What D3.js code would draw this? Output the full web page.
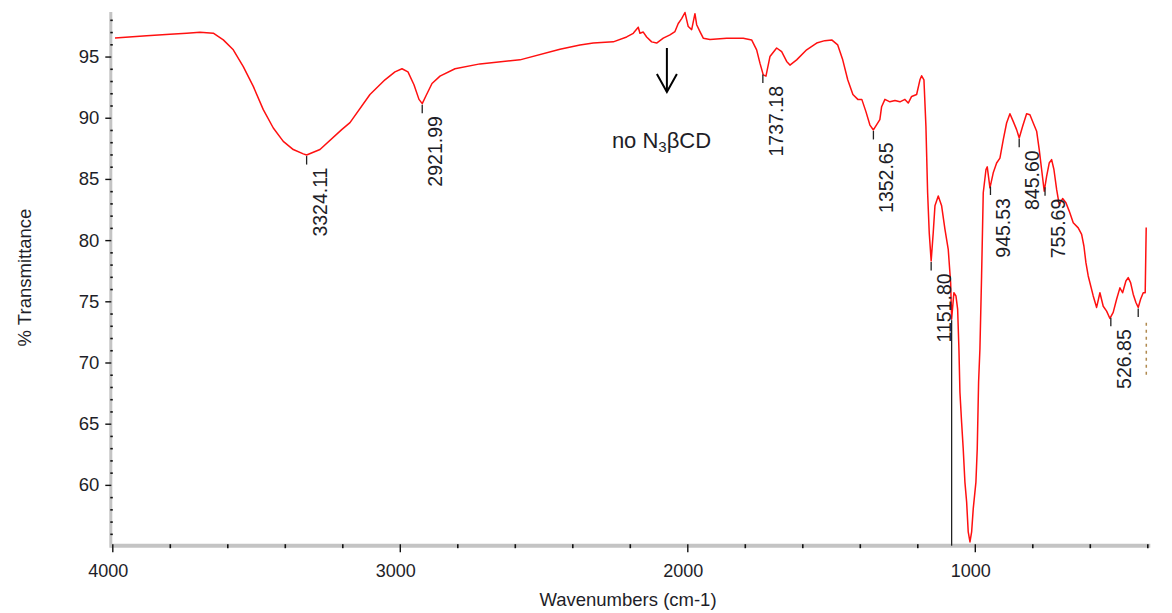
<!DOCTYPE html>
<html><head><meta charset="utf-8">
<script src="https://cdn.jsdelivr.net/npm/d3@7"></script>
<style>
body{margin:0;background:#fff;}
svg{display:block;}
text{font-family:"Liberation Sans", Arial, sans-serif;fill:#1e1e28;}
</style></head><body>
<svg id="chart" width="1172" height="613"></svg>
<script>
// ---- data ----
const wavenumbers = [3990.6,3880.4,3799.3,3741.2,3695.0,3648.7,3613.9,3579.2,3544.4,3509.6,3474.8,3440.0,3405.3,3370.5,3335.7,3324.1,3277.6,3202.1,3173.3,3103.8,3051.6,3016.8,2992.4,2971.6,2950.7,2933.3,2922.0,2908.9,2888.0,2860.2,2808.0,2721.2,2582.0,2442.9,2373.3,2327.1,2257.5,2210.9,2188.0,2170.6,2164.7,2153.2,2141.4,2124.0,2106.6,2083.6,2060.3,2042.9,2031.5,2019.6,2008.1,2002.2,1996.7,1984.8,1973.4,1967.4,1956.0,1944.5,1921.2,1863.1,1805.4,1776.2,1758.8,1747.3,1735.8,1726.4,1712.5,1689.2,1671.8,1654.4,1643.0,1619.7,1584.9,1550.1,1521.8,1497.7,1476.8,1459.4,1442.0,1424.0,1406.9,1393.0,1378.7,1364.8,1352.7,1330.3,1324.1,1312.6,1295.3,1277.9,1260.4,1243.0,1231.5,1219.7,1202.3,1190.8,1184.9,1176.9,1170.0,1164.1,1158.5,1151.8,1144.6,1138.6,1127.1,1115.4,1103.9,1092.4,1086.6,1084.0,1080.6,1072.7,1065.6,1059.7,1055.2,1051.7,1045.9,1040.3,1034.4,1028.4,1022.9,1016.8,1011.0,1005.4,996.1,991.5,986.8,982.2,976.4,970.6,961.1,956.7,947.3,935.9,924.1,912.6,901.1,889.4,877.8,866.4,854.6,845.5,833.6,819.8,808.3,796.7,784.9,775.9,767.6,758.5,750.2,741.2,732.8,724.8,715.4,706.4,694.5,683.0,671.6,657.6,640.3,628.4,620.4,613.5,605.5,588.1,576.3,564.8,553.3,541.5,530.0,518.6,506.8,495.3,485.9,474.4,466.4,458.1,449.0,439.6,431.6,423.3,414.2,407.3,403.8];
const transmittance = [96.52,96.69,96.83,96.91,96.99,96.91,96.36,95.55,94.18,92.56,90.66,89.16,88.07,87.40,87.05,86.95,87.40,89.03,89.60,91.90,93.10,93.75,94.00,93.75,92.70,91.50,91.15,91.80,92.80,93.40,94.00,94.40,94.73,95.60,95.95,96.10,96.20,96.60,96.90,97.40,96.90,97.00,96.60,96.20,96.10,96.50,96.77,97.04,97.70,98.10,98.60,98.00,97.45,97.20,98.50,97.60,97.04,96.50,96.40,96.50,96.50,96.36,95.55,94.46,93.50,93.40,95.00,95.70,95.40,94.60,94.30,94.73,95.55,96.10,96.30,96.36,95.95,94.73,93.10,91.90,91.50,91.50,90.50,89.40,89.00,89.84,90.90,91.50,91.30,91.40,91.30,91.50,91.20,91.74,91.90,93.10,93.43,93.10,89.30,83.87,80.60,78.30,80.60,82.80,83.60,82.80,80.90,79.25,77.35,76.50,73.54,75.70,75.44,74.36,71.10,67.57,65.12,62.95,60.23,58.60,56.16,55.34,56.16,58.06,60.23,62.95,68.40,71.10,77.07,83.87,85.77,85.99,84.27,85.50,86.30,86.70,88.20,89.57,90.33,89.70,89.03,88.35,89.30,90.33,90.25,89.57,88.90,87.40,85.77,84.00,85.20,86.30,86.58,85.77,84.14,82.90,83.40,83.05,82.37,81.42,81.00,80.47,79.50,78.16,77.07,75.44,74.50,75.70,74.60,74.20,73.60,74.10,75.17,76.10,75.70,76.66,76.94,76.53,75.58,74.90,74.50,75.17,75.70,75.70,81.04];

const xMajorTicks = [4000, 3000, 2000, 1000];
const xTickLabels = ["4000", "3000", "2000", "1000"];
const xMinorTicks = [3800,3600,3400,3200,2800,2600,2400,2200,1800,1600,1400,1200,800,600,400];
const yMajorTicks = [60, 65, 70, 75, 80, 85, 90, 95];
const yTickLabels = ["60", "65", "70", "75", "80", "85", "90", "95"];
const yMinorTicks = [56,57,58,59,61,62,63,64,66,67,68,69,71,72,73,74,76,77,78,79,81,82,83,84,86,87,88,89,91,92,93,94,96,97,98];

const peakWavenumbers = [3324.11, 2921.99, 1737.18, 1352.65, 1151.80, 945.53, 845.60, 755.69, 526.85];
const peakLabels = ["3324.11", "2921.99", "1737.18", "1352.65", "1151.80", "945.53", "845.60", "755.69", "526.85"];
const unlabeledPeaks = [431.6];
const dropLineWn = [1080.6];       // black marker line running down to the axis
const cutLabelWn = [403.5];        // clipped (dashed) label at the right edge
const cutLabelT = [73.25, 68.7];

const xTitle = "Wavenumbers (cm-1)";
const yTitle = "% Transmittance";
const annotationWn = [2071];       // arrow position
const annotationT = [95.7, 92.1];  // arrow from / to
const annotationParts = ["no N", "3", "βCD"];

// ---- scales ----
const svg = d3.select("#chart");
const x = d3.scaleLinear().domain([4000, 400]).range([112.3, 1147.3]);
const y = d3.scaleLinear().domain([55.03, 98.64]).range([545.7, 12]);

const data = wavenumbers.map((w, i) => [w, transmittance[i]]);
function tAt(w) {
  for (let i = 0; i < data.length - 1; i++) {
    const a = data[i], b = data[i + 1];
    if (w <= a[0] && w >= b[0]) {
      const f = (a[0] - w) / (a[0] - b[0]);
      return a[1] + f * (b[1] - a[1]);
    }
  }
  return data[data.length - 1][1];
}

// ---- axes ----
const axisGray = "#c4c4c4";
const x0 = x(4000), yBottom = y.range()[0];
svg.append("line").attr("x1", x0 - 1.5).attr("x2", x(400) + 3)
  .attr("y1", yBottom).attr("y2", yBottom)
  .attr("stroke", axisGray).attr("stroke-width", 4);
svg.append("line").attr("x1", x0 - 1.5).attr("x2", x0 - 1.5)
  .attr("y1", y.range()[1]).attr("y2", yBottom + 2)
  .attr("stroke", axisGray).attr("stroke-width", 3);

// y axis
const yAx = svg.append("g").attr("transform", `translate(${x0 - 1},0)`);
yAx.call(d3.axisLeft(y).tickValues(yMajorTicks).tickSize(6).tickPadding(6)
  .tickFormat((d, i) => yTickLabels[i]));
yAx.select(".domain").remove();
yAx.selectAll(".tick line").attr("stroke", "#111").attr("stroke-width", 1.4);
yAx.selectAll(".tick text").attr("font-size", 18.5).attr("font-family", "Liberation Sans, Arial, sans-serif").attr("fill", "#1e1e30");
const yMin = svg.append("g").attr("transform", `translate(${x0 + 0.5},0)`);
yMin.call(d3.axisLeft(y).tickValues(yMinorTicks).tickSize(2.5).tickFormat(""));
yMin.select(".domain").remove();
yMin.selectAll(".tick line").attr("stroke", "#111").attr("stroke-width", 1.6);

// x axis
const xAx = svg.append("g").attr("transform", `translate(0,${yBottom - 1.5})`);
xAx.call(d3.axisBottom(x).tickValues(xMajorTicks).tickSize(8).tickFormat(""));
xAx.select(".domain").remove();
xAx.selectAll(".tick line").attr("stroke", "#111").attr("stroke-width", 1.4);
const xMin = svg.append("g").attr("transform", `translate(0,${yBottom - 1.5})`);
xMin.call(d3.axisBottom(x).tickValues(xMinorTicks).tickSize(4).tickFormat(""));
xMin.select(".domain").remove();
xMin.selectAll(".tick line").attr("stroke", "#111").attr("stroke-width", 1.6);
svg.append("g").selectAll("text").data(xMajorTicks).join("text")
  .attr("x", d => x(d) - 4).attr("y", 576.7)
  .attr("text-anchor", "middle").attr("font-size", 18)
  .text((d, i) => xTickLabels[i]);

// titles
svg.append("text").attr("x", 628).attr("y", 606).attr("text-anchor", "middle")
  .attr("font-size", 18.5).text(xTitle);
svg.append("text").attr("transform", "translate(31,277.5) rotate(-90)")
  .attr("text-anchor", "middle").attr("font-size", 18.5).text(yTitle);

// ---- marker line + spectrum ----
svg.append("g").selectAll("line").data(dropLineWn).join("line")
  .attr("x1", d => x(d)).attr("x2", d => x(d))
  .attr("y1", d => y(tAt(d)) + 1).attr("y2", yBottom)
  .attr("stroke", "#222").attr("stroke-width", 1.3);

svg.append("path").datum(data)
  .attr("fill", "none").attr("stroke", "#ff1010").attr("stroke-width", 1.5)
  .attr("stroke-linejoin", "round")
  .attr("d", d3.line().x(d => x(d[0])).y(d => y(d[1])));

// ---- peak labels ----
const pk = svg.append("g");
peakWavenumbers.forEach((w, i) => {
  const px = x(w), py = y(tAt(w));
  pk.append("line").attr("x1", px).attr("x2", px).attr("y1", py + 1).attr("y2", py + 9.5)
    .attr("stroke", "#222").attr("stroke-width", 1.3);
  pk.append("text").attr("transform", `translate(${px + 13},${py + 12.5}) rotate(-90)`)
    .attr("text-anchor", "end").attr("dominant-baseline", "central")
    .attr("font-size", 19.5).text(peakLabels[i]);
});
unlabeledPeaks.forEach(w => {
  const px = x(w), py = y(tAt(w));
  pk.append("line").attr("x1", px).attr("x2", px).attr("y1", py + 1).attr("y2", py + 9.5)
    .attr("stroke", "#222").attr("stroke-width", 1.3);
});
cutLabelWn.forEach(w => {
  pk.append("line").attr("x1", x(w)).attr("x2", x(w))
    .attr("y1", y(cutLabelT[0])).attr("y2", y(cutLabelT[1]))
    .attr("stroke", "#b08a50").attr("stroke-width", 1.5).attr("stroke-dasharray", "3,4");
});

// ---- annotation ----
const ax = x(annotationWn[0]), ay1 = y(annotationT[0]), ay2 = y(annotationT[1]);
const ann = svg.append("g").attr("stroke", "#000").attr("stroke-width", 2).attr("fill", "none");
ann.append("line").attr("x1", ax).attr("x2", ax).attr("y1", ay1).attr("y2", ay2);
ann.append("path").attr("d", `M${ax - 10},${ay2 - 18} L${ax},${ay2} L${ax + 10},${ay2 - 18}`);
const at = svg.append("text").attr("x", ax - 55).attr("y", 148)
  .attr("font-family", "Lato, 'Open Sans', sans-serif").attr("font-size", 22).attr("fill", "#000");
at.append("tspan").text(annotationParts[0]);
at.append("tspan").attr("font-size", 15).attr("dy", 4).text(annotationParts[1]);
at.append("tspan").attr("dy", -4).text(annotationParts[2]);
</script>
</body></html>
